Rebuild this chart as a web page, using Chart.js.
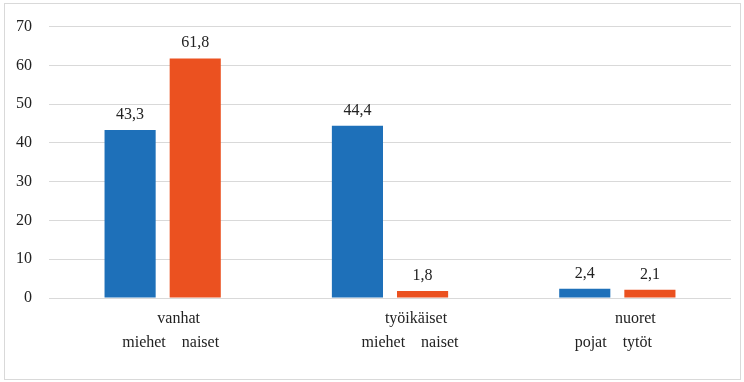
<!DOCTYPE html>
<html>
<head>
<meta charset="utf-8">
<script src="https://cdn.jsdelivr.net/npm/chart.js@4.4.1/dist/chart.umd.min.js"></script>
<style>
  body { margin: 0; background: #fff; }
  canvas { display: block; }
</style>
</head>
<body>
<canvas id="myChart" width="744" height="382"></canvas>
<script>
  // categories (two-line labels, spaces keep the original offsets)
  const groupLabels = [
    ["        vanhat", "    miehet    naiset"],
    ["             työikäiset", "          miehet    naiset"],
    ["         nuoret", "pojat    tytöt  "]
  ];
  const miehet = [43.3, 44.4, 2.4];
  const naiset = [61.8, 1.8, 2.1];
  const yTicks = [0, 10, 20, 30, 40, 50, 60, 70];

  const blue = "#1e70b9";
  const orange = "#eb5120";
  const textColor = "#222";

  // frame around the whole chart
  const framePlugin = {
    id: "frame",
    beforeDraw(chart) {
      const c = chart.ctx;
      c.save();
      c.fillStyle = "#fff";
      c.fillRect(0, 0, chart.width, chart.height);
      c.strokeStyle = "#d9d9d9";
      c.lineWidth = 1;
      c.strokeRect(4.5, 3.5, 736, 376);
      c.restore();
    }
  };

  // value labels above bars
  const valueLabels = {
    id: "valueLabels",
    afterDatasetsDraw(chart) {
      const c = chart.ctx;
      c.save();
      c.font = "16px 'Liberation Serif', serif";
      c.fillStyle = textColor;
      c.textAlign = "center";
      c.textBaseline = "alphabetic";
      chart.data.datasets.forEach((ds, i) => {
        chart.getDatasetMeta(i).data.forEach((bar, j) => {
          const txt = ds.data[j].toFixed(1).replace(".", ",");
          c.fillText(txt, bar.x, bar.y - 11);
        });
      });
      c.restore();
    }
  };

  new Chart(document.getElementById("myChart"), {
    type: "bar",
    data: {
      labels: groupLabels,
      datasets: [
        { label: "miehet", data: miehet, backgroundColor: blue },
        { label: "naiset", data: naiset, backgroundColor: orange }
      ]
    },
    options: {
      responsive: false,
      animation: false,
      datasets: {
        bar: { categoryPercentage: 0.573, barPercentage: 0.785 }
      },
      layout: { padding: { top: 24, left: 4, right: 13, bottom: 0 } },
      plugins: {
        legend: { display: false },
        tooltip: { enabled: false }
      },
      scales: {
        x: {
          grid: { display: false, drawTicks: false },
          border: { display: false },
          ticks: {
            color: textColor,
            font: { family: "'Liberation Serif', serif", size: 16, lineHeight: 1.5 },
            padding: 9,
            maxRotation: 0,
            autoSkip: false
          },
          afterFit(scale) { scale.height = 84; }
        },
        y: {
          min: 0,
          max: 70,
          afterBuildTicks(scale) { scale.ticks = yTicks.map(v => ({ value: v })); },
          grid: { color: "#d9d9d9", drawTicks: false },
          border: { display: false },
          ticks: {
            color: textColor,
            font: { family: "'Liberation Serif', serif", size: 16 },
            padding: 17
          },
          afterFit(scale) { scale.width = 45; }
        }
      }
    },
    plugins: [framePlugin, valueLabels]
  });
</script>
</body>
</html>
